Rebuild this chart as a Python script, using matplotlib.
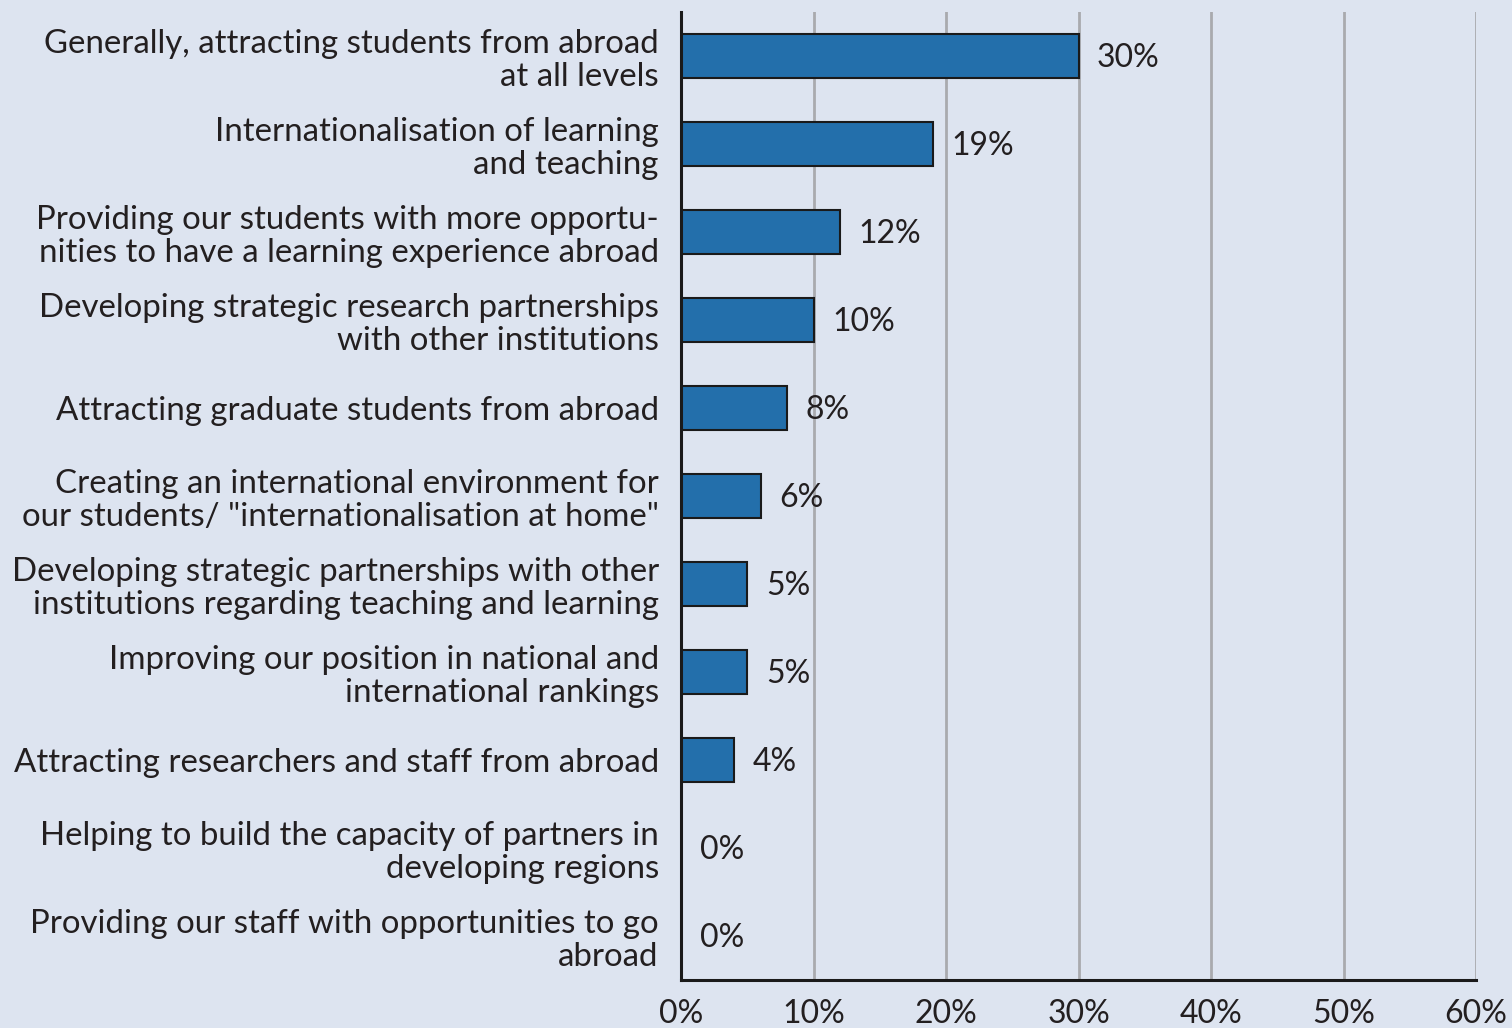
import matplotlib
matplotlib.use("Agg")
import matplotlib.pyplot as plt

categories = [
    "Generally, attracting students from abroad\nat all levels",
    "Internationalisation of learning\nand teaching",
    "Providing our students with more opportu-\nnities to have a learning experience abroad",
    "Developing strategic research partnerships\nwith other institutions",
    "Attracting graduate students from abroad",
    "Creating an international environment for\nour students/ \"internationalisation at home\"",
    "Developing strategic partnerships with other\ninstitutions regarding teaching and learning",
    "Improving our position in national and\ninternational rankings",
    "Attracting researchers and staff from abroad",
    "Helping to build the capacity of partners in\ndeveloping regions",
    "Providing our staff with opportunities to go\nabroad",
]
values = [30, 19, 12, 10, 8, 6, 5, 5, 4, 0, 0]
xticks = [0, 10, 20, 30, 40, 50, 60]
xtick_labels = ["0%", "10%", "20%", "30%", "40%", "50%", "60%"]

bg = "#dde4f0"
bar_color = "#236fab"

plt.rcParams['font.family'] = ['Lato', 'DejaVu Sans']

fig = plt.figure(figsize=(15.12, 10.28), dpi=100)
fig.patch.set_facecolor(bg)
ax = fig.add_axes([0.4504, 0.0467, 0.5258, 0.9416])
ax.set_facecolor(bg)

ypos = list(range(len(categories)))
ax.barh(ypos, values, height=0.5, color=bar_color, edgecolor="#1a1a1a",
        linewidth=1.5, zorder=3)

for y, v in zip(ypos, values):
    ax.text(v + 1.4, y + 0.02, f"{v}%", va="center", ha="left", fontsize=23,
            color="#231f20", zorder=4)

ax.set_xlim(0, 60)
ax.set_ylim(len(categories) - 0.5, -0.5)
ax.set_xticks(xticks)
ax.set_xticklabels(xtick_labels, fontsize=23, color="#231f20")
ax.set_yticks(ypos)
ax.set_yticklabels(categories, fontsize=23.8, color="#231f20", linespacing=1.12)
ax.tick_params(axis="y", length=0, pad=16)
ax.tick_params(axis="x", length=0, pad=14)

ax.grid(axis="x", color="#a9aaae", linewidth=2, zorder=0)
ax.set_axisbelow(True)
for s in ["top", "right"]:
    ax.spines[s].set_visible(False)
for s in ["left", "bottom"]:
    ax.spines[s].set_linewidth(2.2)
    ax.spines[s].set_color("#1a1a1a")
    ax.spines[s].set_zorder(5)

fig.savefig("out.png", dpi=100, facecolor=bg)
